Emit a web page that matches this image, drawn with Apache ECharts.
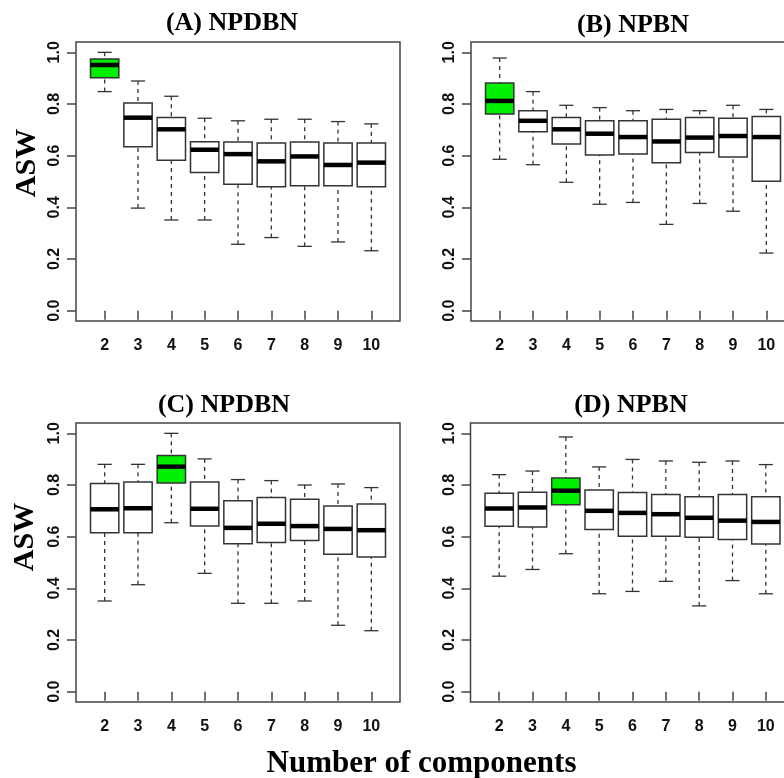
<!DOCTYPE html>
<html>
<head>
<meta charset="utf-8">
<style>
html, body { margin: 0; padding: 0; background: #fff; }
#chart { width: 784px; height: 778px; }
</style>
<script src="https://cdn.jsdelivr.net/npm/echarts@6/dist/echarts.min.js"></script>
</head>
<body>
<div id="chart"></div>
<script>
var components = [2, 3, 4, 5, 6, 7, 8, 9, 10];
var yTicks = [0, 0.2, 0.4, 0.6, 0.8, 1.0];

// each box: [min, q1, median, q3, max]
var panelA = [
	[0.848, 0.902, 0.951, 0.974, 1.000],
	[0.397, 0.635, 0.747, 0.804, 0.889],
	[0.351, 0.582, 0.702, 0.748, 0.830],
	[0.351, 0.535, 0.623, 0.654, 0.745],
	[0.257, 0.489, 0.606, 0.653, 0.735],
	[0.283, 0.480, 0.578, 0.649, 0.741],
	[0.249, 0.484, 0.597, 0.653, 0.741],
	[0.266, 0.484, 0.564, 0.649, 0.732],
	[0.232, 0.480, 0.573, 0.649, 0.723]
];
var panelB = [
	[0.586, 0.761, 0.812, 0.881, 0.978],
	[0.565, 0.693, 0.735, 0.774, 0.848],
	[0.497, 0.645, 0.702, 0.748, 0.795],
	[0.412, 0.603, 0.685, 0.735, 0.786],
	[0.419, 0.606, 0.672, 0.735, 0.774],
	[0.334, 0.573, 0.655, 0.741, 0.779],
	[0.415, 0.612, 0.670, 0.748, 0.774],
	[0.385, 0.595, 0.676, 0.745, 0.795],
	[0.223, 0.501, 0.672, 0.752, 0.779]
];
var panelC = [
	[0.351, 0.615, 0.706, 0.806, 0.880],
	[0.414, 0.615, 0.710, 0.812, 0.880],
	[0.654, 0.808, 0.871, 0.914, 1.000],
	[0.458, 0.641, 0.708, 0.812, 0.901],
	[0.342, 0.573, 0.634, 0.739, 0.821],
	[0.342, 0.577, 0.650, 0.752, 0.817],
	[0.351, 0.585, 0.641, 0.745, 0.800],
	[0.257, 0.532, 0.630, 0.719, 0.804],
	[0.236, 0.521, 0.625, 0.726, 0.790]
];
var panelD = [
	[0.447, 0.640, 0.709, 0.768, 0.840],
	[0.473, 0.637, 0.713, 0.772, 0.854],
	[0.534, 0.724, 0.778, 0.827, 0.986],
	[0.379, 0.628, 0.700, 0.781, 0.870],
	[0.388, 0.602, 0.692, 0.771, 0.899],
	[0.427, 0.602, 0.687, 0.763, 0.893],
	[0.332, 0.598, 0.673, 0.755, 0.888],
	[0.430, 0.589, 0.662, 0.763, 0.893],
	[0.379, 0.572, 0.657, 0.755, 0.879]
];
var panelTitles = ['(A) NPDBN', '(B) NPBN', '(C) NPDBN', '(D) NPBN'];
var bestK = [2, 2, 4, 4];

var panels = [panelA, panelB, panelC, panelD],
	// plot frames: left, top
	frames = [[76, 42], [471, 42], [76, 423], [470.5, 423]],
	titlePos = [[232, 23], [633, 25], [224, 405], [631, 405]],
	frameW = 324,
	frameH = 279,
	lineColor = '#444',
	textColor = '#111';

function renderBox(params, api) {
	var x = api.value(0),
		lo = api.coord([x, api.value(1)]),
		q1 = api.coord([x, api.value(2)]),
		md = api.coord([x, api.value(3)]),
		q3 = api.coord([x, api.value(4)]),
		hi = api.coord([x, api.value(5)]),
		bw = api.size([0.85, 0])[0],
		cw = bw / 2,
		cx = lo[0],
		fill = x === bestK[params.seriesIndex] ? '#00ee00' : '#fff',
		dashed = { stroke: '#333', lineWidth: 1.3, lineDash: [4, 4] },
		solid = { stroke: '#333', lineWidth: 1.3 };

	return {
		type: 'group',
		children: [
			{ type: 'line', shape: { x1: cx, y1: lo[1], x2: cx, y2: q1[1] }, style: dashed },
			{ type: 'line', shape: { x1: cx, y1: hi[1], x2: cx, y2: q3[1] }, style: dashed },
			{ type: 'line', shape: { x1: cx - cw / 2, y1: lo[1], x2: cx + cw / 2, y2: lo[1] }, style: solid },
			{ type: 'line', shape: { x1: cx - cw / 2, y1: hi[1], x2: cx + cw / 2, y2: hi[1] }, style: solid },
			{ type: 'rect', shape: { x: cx - bw / 2, y: q3[1], width: bw, height: q1[1] - q3[1] },
				style: { fill: fill, stroke: '#333', lineWidth: 1.5 } },
			{ type: 'line', shape: { x1: cx - bw / 2, y1: md[1], x2: cx + bw / 2, y2: md[1] },
				style: { stroke: '#000', lineWidth: 4.5 } }
		]
	};
}

var grids = [], xAxes = [], yAxes = [], series = [], graphics = [];

panels.forEach(function (boxes, i) {
	grids.push({
		left: frames[i][0],
		top: frames[i][1],
		width: frameW,
		height: frameH,
		show: true,
		borderColor: lineColor,
		borderWidth: 1.5,
		backgroundColor: 'transparent',
		containLabel: false,
		outerBoundsMode: 'none'
	});
	xAxes.push({
		type: 'value',
		gridIndex: i,
		min: 1.14,
		max: 10.86,
		splitLine: { show: false },
		axisLine: { show: false },
		axisTick: { show: true, inside: false, length: 9, customValues: components,
			lineStyle: { color: lineColor, width: 1.5 } },
		axisLabel: { customValues: components, margin: 17, color: textColor,
			fontFamily: 'Liberation Sans', fontWeight: 'bold', fontSize: 16 }
	});
	yAxes.push({
		type: 'value',
		gridIndex: i,
		min: -0.04,
		max: 1.04,
		splitLine: { show: false },
		axisLine: { show: false },
		axisTick: { show: true, inside: false, length: 9, customValues: yTicks,
			lineStyle: { color: lineColor, width: 1.5 } },
		axisLabel: { customValues: yTicks, rotate: 90, margin: 13, color: textColor,
			fontFamily: 'Liberation Sans', fontWeight: 'bold', fontSize: 16,
			formatter: function (v) { return v.toFixed(1); } }
	});
	series.push({
		type: 'custom',
		xAxisIndex: i,
		yAxisIndex: i,
		renderItem: renderBox,
		encode: { x: 0, y: [1, 2, 3, 4, 5] },
		data: boxes.map(function (b, j) { return [components[j]].concat(b); }),
		clip: false,
		silent: true
	});
	graphics.push({
		type: 'text',
		x: titlePos[i][0],
		y: titlePos[i][1],
		style: { text: panelTitles[i], fill: '#000', align: 'center', verticalAlign: 'middle',
			font: 'bold 26px "Liberation Serif"' }
	});
});

// y axis name, left column only
[[27, 163], [25, 537]].forEach(function (p) {
	graphics.push({
		type: 'text',
		x: p[0],
		y: p[1],
		rotation: Math.PI / 2,
		style: { text: 'ASW', fill: '#000', align: 'center', verticalAlign: 'middle',
			font: 'bold 30px "Liberation Serif"' }
	});
});

graphics.push({
	type: 'text',
	x: 421.5,
	y: 764,
	style: { text: 'Number of components', fill: '#000', align: 'center', verticalAlign: 'middle',
		font: 'bold 31px "Liberation Serif"' }
});

var chart = echarts.init(document.getElementById('chart'), null, { renderer: 'canvas' });
chart.setOption({
	animation: false,
	backgroundColor: '#fff',
	grid: grids,
	xAxis: xAxes,
	yAxis: yAxes,
	series: series,
	graphic: graphics
});
</script>
</body>
</html>
